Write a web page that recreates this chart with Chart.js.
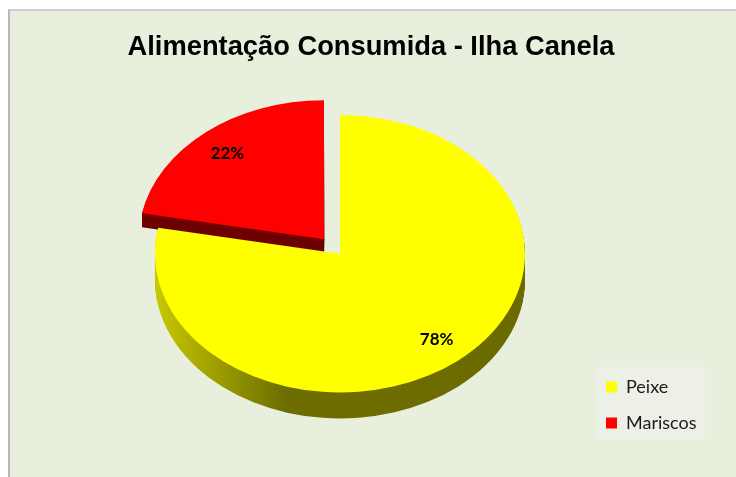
<!DOCTYPE html>
<html><head><meta charset="utf-8">
<script src="https://cdn.jsdelivr.net/npm/chart.js@4.4.0/dist/chart.umd.min.js"></script>
<style>
html,body{margin:0;padding:0;background:#fff;}
#wrap{position:relative;width:736px;height:477px;overflow:hidden;}
#panel{position:absolute;left:8px;top:9px;right:0;bottom:0;background:#E9EFDD;border-left:2px solid #b9b9b9;border-top:2px solid #cfcfcf;}
canvas{position:absolute;left:0;top:0;}
</style></head><body>
<div id="wrap"><div id="panel"></div><canvas id="c" width="736" height="477"></canvas></div>
<script>
const titleText = 'Alimentação Consumida - Ilha Canela';
const categories = ['Peixe', 'Mariscos'];
const values = [78, 22];
const sliceColors = ['#FFFF00', '#FF0000'];
const sideColors = ['#747400', '#6E0000'];
const sliceOffsets = [0, 100];
const sliceDepths = [26, 14];

// let the legend draw its text past the narrow box reserved for it in the layout
const legendWiden = {
  id: 'legendWiden',
  afterLayout(chart) {
    const L = chart.legend;
    if (!L) return;
    L.right = chart.width;
    L.width = L.right - L.left;
  }
};

const legendBg = {
  id: 'legendBg',
  beforeDraw(chart) {
    const L = chart.legend;
    if (!L || !L.legendHitBoxes || !L.legendHitBoxes.length) return;
    const hb = L.legendHitBoxes;
    const first = hb[0], last = hb[hb.length - 1];
    const ctx = chart.ctx;
    ctx.save();
    ctx.fillStyle = '#EDF0E6';
    ctx.fillRect(first.left - 9, first.top - 11, 108, last.top + last.height - first.top + 19);
    ctx.restore();
  }
};

const pie3d = {
  id: 'pie3d',
  beforeDatasetsDraw(chart, args, opts) {
    const ctx = chart.ctx;
    const arcs = chart.getDatasetMeta(0).data;
    const k = opts.tilt;
    const cy = arcs[0].y;
    const order = [1, 0];
    for (const i of order) {
      const el = arcs[i];
      const saved = el.options;
      let side = sideColors[i];
      if (i === 0) {
        const g = ctx.createLinearGradient(el.x - el.outerRadius, 0, el.x + el.outerRadius, 0);
        g.addColorStop(0, '#C8C800');
        g.addColorStop(0.35, '#6E6E00');
        g.addColorStop(1, '#6A6A00');
        side = g;
      }
      el.options = Object.assign(Object.create(saved), {backgroundColor: side, borderColor: side, borderWidth: 0});
      for (let d = sliceDepths[i]; d >= 1; d--) {
        ctx.save();
        ctx.translate(0, cy + d); ctx.scale(1, k); ctx.translate(0, -cy);
        el.draw(ctx);
        ctx.restore();
      }
      el.options = saved;
      ctx.save();
      ctx.translate(0, cy); ctx.scale(1, k); ctx.translate(0, -cy);
      el.draw(ctx);
      ctx.restore();
    }
    ctx.save();
    ctx.font = 'bold 17px Lato, "Open Sans", sans-serif';
    ctx.fillStyle = '#000';
    ctx.textAlign = 'center';
    ctx.textBaseline = 'middle';
    arcs.forEach((el, i) => {
      const mid = (el.startAngle + el.endAngle) / 2;
      const off = (el.options.offset || 0) / 4;
      const x = el.x + Math.cos(mid) * (el.outerRadius * opts.labelFx + off);
      const y = cy + Math.sin(mid) * (el.outerRadius * opts.labelFy + off) * k;
      ctx.fillText(values[i] + '%', x, y);
    });
    ctx.restore();
    return false;
  }
};

new Chart(document.getElementById('c'), {
  type: 'pie',
  data: {
    labels: categories,
    datasets: [{
      data: values,
      backgroundColor: sliceColors,
      borderWidth: 0,
      offset: sliceOffsets
    }]
  },
  options: {
    responsive: false,
    animation: false,
    radius: 185,
    layout: {padding: {top: 10, bottom: 27, left: 92, right: 86}},
    plugins: {
      pie3d: {tilt: 0.75, labelFx: 0.82, labelFy: 0.8},
      tooltip: {enabled: false},
      title: {
        display: true,
        text: titleText,
        color: '#000',
        font: {family: '"Liberation Sans", Arial, sans-serif', size: 27.3, weight: 'bold', lineHeight: 0.75},
        padding: {top: 27, bottom: 0}
      },
      legend: {
        position: 'right',
        align: 'end',
        maxWidth: 62,
        labels: {
          boxWidth: 11, boxHeight: 11, padding: 18,
          color: '#1a1a1a',
          font: {family: 'Lato, "Open Sans", sans-serif', size: 18}
        }
      }
    }
  },
  plugins: [legendWiden, legendBg, pie3d]
});
</script>
</body></html>
